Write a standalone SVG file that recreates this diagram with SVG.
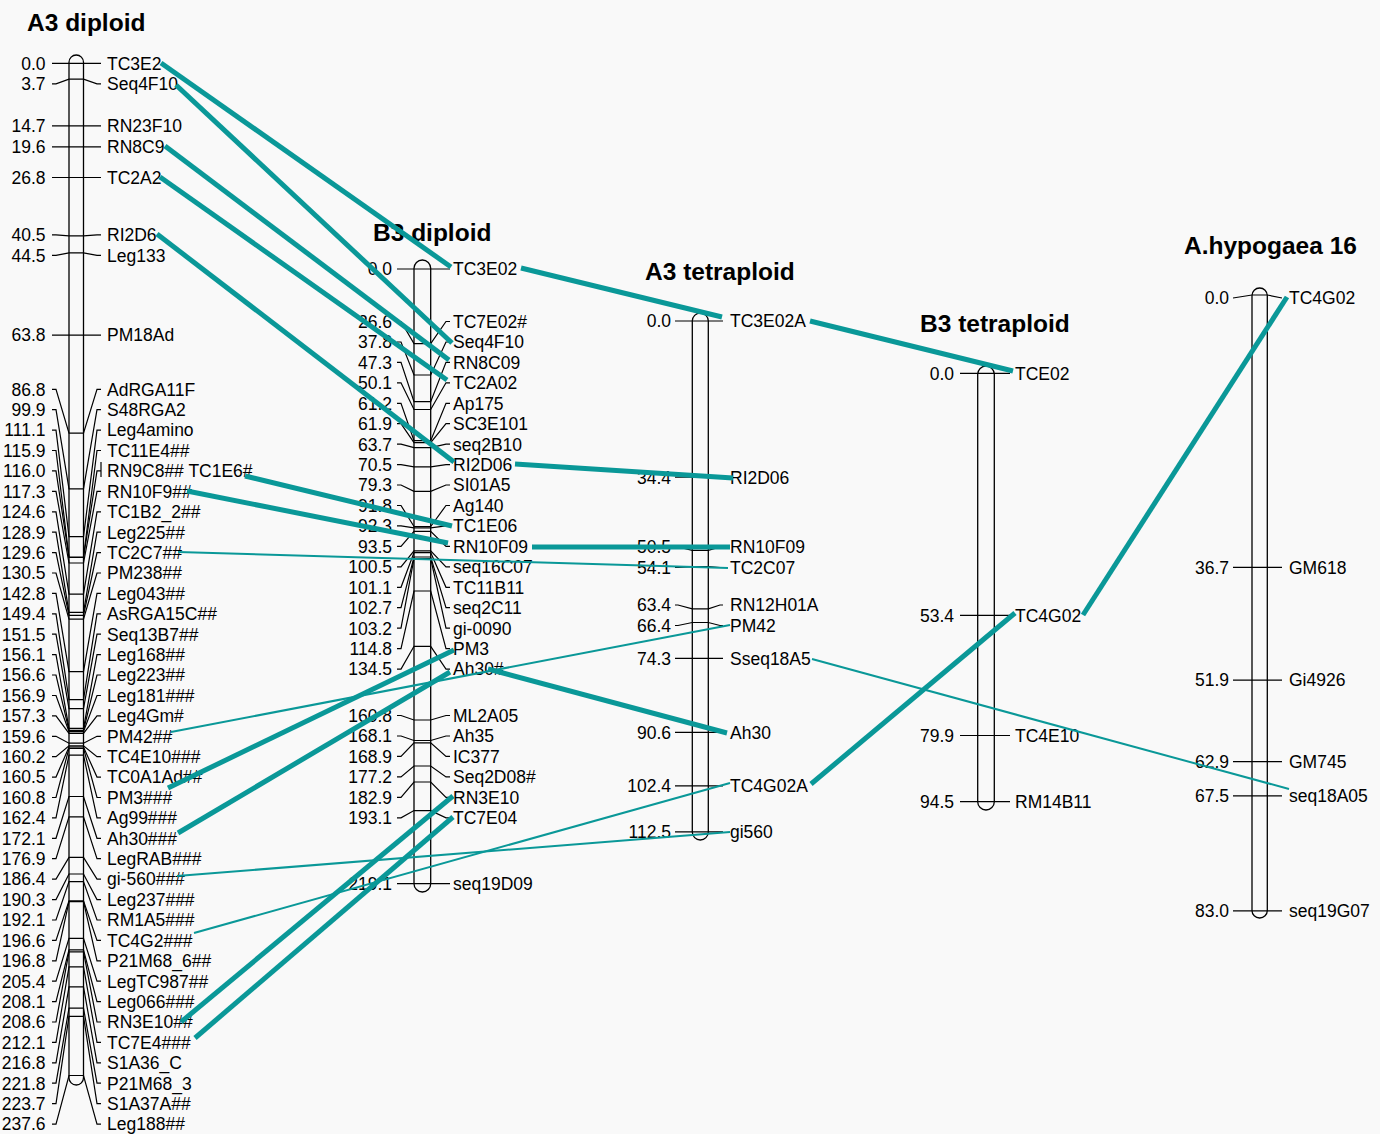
<svg xmlns="http://www.w3.org/2000/svg" width="1380" height="1134" viewBox="0 0 1380 1134">
<style>
.bg{fill:#f9f9f9}
.chr{fill:none;stroke:#000;stroke-width:1.3}
.tk{fill:none;stroke:#000;stroke-width:1.2}
text{font-family:"Liberation Sans",Arial,sans-serif;font-size:17.5px;fill:#000}
.n{text-anchor:end}
.t{font-size:24.5px;font-weight:bold}
.thick{stroke:#0a9898;stroke-width:5;fill:none}
.thin{stroke:#0a9898;stroke-width:2;fill:none}
</style>
<rect class="bg" x="0" y="0" width="1380" height="1134"/>

<g id="a3-diploid">
<text class="t" x="27" y="31">A3 diploid</text>
<rect class="chr" x="69" y="55" width="14.5" height="1030" rx="7.25"/>
<polyline class="tk" points="52,63.3 69,63.3 83.5,63.3 101,63.3"/>
<polyline class="tk" points="52,83.8 56,83.8 69,79.1 83.5,79.1 97,83.8 101,83.8"/>
<polyline class="tk" points="52,125.9 101,125.9"/>
<polyline class="tk" points="52,146.8 101,146.8"/>
<polyline class="tk" points="52,177.5 101,177.5"/>
<polyline class="tk" points="52,234.8 56,234.8 69,235.8 83.5,235.8 97,234.8 101,234.8"/>
<polyline class="tk" points="52,255.3 56,255.3 69,252.9 83.5,252.9 97,255.3 101,255.3"/>
<polyline class="tk" points="52,335.1 101,335.1"/>
<polyline class="tk" points="52,389.3 56,389.3 69,433.1 83.5,433.1 97,389.3 101,389.3"/>
<polyline class="tk" points="52,409.7 56,409.7 69,488.9 83.5,488.9 97,409.7 101,409.7"/>
<polyline class="tk" points="52,430.1 56,430.1 69,536.6 83.5,536.6 97,430.1 101,430.1"/>
<polyline class="tk" points="52,450.5 56,450.5 69,557 83.5,557 97,450.5 101,450.5"/>
<polyline class="tk" points="52,470.9 56,470.9 69,557.5 83.5,557.5 97,470.9 101,470.9"/>
<line class="tk" x1="101" y1="462" x2="101" y2="477"/>
<polyline class="tk" points="52,491.4 56,491.4 69,563 83.5,563 97,491.4 101,491.4"/>
<polyline class="tk" points="52,511.8 56,511.8 69,594.1 83.5,594.1 97,511.8 101,511.8"/>
<polyline class="tk" points="52,532.2 56,532.2 69,612.4 83.5,612.4 97,532.2 101,532.2"/>
<polyline class="tk" points="52,552.6 56,552.6 69,615.4 83.5,615.4 97,552.6 101,552.6"/>
<polyline class="tk" points="52,573 56,573 69,619.2 83.5,619.2 97,573 101,573"/>
<polyline class="tk" points="52,593.4 56,593.4 69,671.6 83.5,671.6 97,593.4 101,593.4"/>
<polyline class="tk" points="52,613.8 56,613.8 69,699.7 83.5,699.7 97,613.8 101,613.8"/>
<polyline class="tk" points="52,634.2 56,634.2 69,708.7 83.5,708.7 97,634.2 101,634.2"/>
<polyline class="tk" points="52,654.6 56,654.6 69,728.3 83.5,728.3 97,654.6 101,654.6"/>
<polyline class="tk" points="52,675 56,675 69,730.4 83.5,730.4 97,675 101,675"/>
<polyline class="tk" points="52,695.5 56,695.5 69,731.7 83.5,731.7 97,695.5 101,695.5"/>
<polyline class="tk" points="52,715.9 56,715.9 69,733.4 83.5,733.4 97,715.9 101,715.9"/>
<polyline class="tk" points="52,736.3 56,736.3 69,743.2 83.5,743.2 97,736.3 101,736.3"/>
<polyline class="tk" points="52,756.7 56,756.7 69,745.8 83.5,745.8 97,756.7 101,756.7"/>
<polyline class="tk" points="52,777.1 56,777.1 69,747 83.5,747 97,777.1 101,777.1"/>
<polyline class="tk" points="52,797.5 56,797.5 69,748.3 83.5,748.3 97,797.5 101,797.5"/>
<polyline class="tk" points="52,817.9 56,817.9 69,755.1 83.5,755.1 97,817.9 101,817.9"/>
<polyline class="tk" points="52,838.3 56,838.3 69,796.5 83.5,796.5 97,838.3 101,838.3"/>
<polyline class="tk" points="52,858.7 56,858.7 69,816.9 83.5,816.9 97,858.7 101,858.7"/>
<polyline class="tk" points="52,879.1 56,879.1 69,857.4 83.5,857.4 97,879.1 101,879.1"/>
<polyline class="tk" points="52,899.6 56,899.6 69,874 83.5,874 97,899.6 101,899.6"/>
<polyline class="tk" points="52,920 56,920 69,881.6 83.5,881.6 97,920 101,920"/>
<polyline class="tk" points="52,940.4 56,940.4 69,900.8 83.5,900.8 97,940.4 101,940.4"/>
<polyline class="tk" points="52,960.8 56,960.8 69,901.7 83.5,901.7 97,960.8 101,960.8"/>
<polyline class="tk" points="52,981.2 56,981.2 69,938.3 83.5,938.3 97,981.2 101,981.2"/>
<polyline class="tk" points="52,1001.6 56,1001.6 69,949.8 83.5,949.8 97,1001.6 101,1001.6"/>
<polyline class="tk" points="52,1022 56,1022 69,951.9 83.5,951.9 97,1022 101,1022"/>
<polyline class="tk" points="52,1042.4 56,1042.4 69,966.8 83.5,966.8 97,1042.4 101,1042.4"/>
<polyline class="tk" points="52,1062.8 56,1062.8 69,986.9 83.5,986.9 97,1062.8 101,1062.8"/>
<polyline class="tk" points="52,1083.2 56,1083.2 69,1008.2 83.5,1008.2 97,1083.2 101,1083.2"/>
<polyline class="tk" points="52,1103.7 56,1103.7 69,1016.3 83.5,1016.3 97,1103.7 101,1103.7"/>
<polyline class="tk" points="52,1124.1 56,1124.1 69,1075.5 83.5,1075.5 97,1124.1 101,1124.1"/>
<text class="n" x="45.5" y="69.6">0.0</text><text x="107" y="69.6">TC3E2</text>
<text class="n" x="45.5" y="90.1">3.7</text><text x="107" y="90.1">Seq4F10</text>
<text class="n" x="45.5" y="132.2">14.7</text><text x="107" y="132.2">RN23F10</text>
<text class="n" x="45.5" y="153.1">19.6</text><text x="107" y="153.1">RN8C9</text>
<text class="n" x="45.5" y="183.8">26.8</text><text x="107" y="183.8">TC2A2</text>
<text class="n" x="45.5" y="241.1">40.5</text><text x="107" y="241.1">RI2D6</text>
<text class="n" x="45.5" y="261.6">44.5</text><text x="107" y="261.6">Leg133</text>
<text class="n" x="45.5" y="341.4">63.8</text><text x="107" y="341.4">PM18Ad</text>
<text class="n" x="45.5" y="395.6">86.8</text><text x="107" y="395.6">AdRGA11F</text>
<text class="n" x="45.5" y="416">99.9</text><text x="107" y="416">S48RGA2</text>
<text class="n" x="45.5" y="436.4">111.1</text><text x="107" y="436.4">Leg4amino</text>
<text class="n" x="45.5" y="456.8">115.9</text><text x="107" y="456.8">TC11E4##</text>
<text class="n" x="45.5" y="477.2">116.0</text><text x="107" y="477.2">RN9C8## TC1E6#</text>
<text class="n" x="45.5" y="497.7">117.3</text><text x="107" y="497.7">RN10F9##</text>
<text class="n" x="45.5" y="518.1">124.6</text><text x="107" y="518.1">TC1B2_2##</text>
<text class="n" x="45.5" y="538.5">128.9</text><text x="107" y="538.5">Leg225##</text>
<text class="n" x="45.5" y="558.9">129.6</text><text x="107" y="558.9">TC2C7##</text>
<text class="n" x="45.5" y="579.3">130.5</text><text x="107" y="579.3">PM238##</text>
<text class="n" x="45.5" y="599.7">142.8</text><text x="107" y="599.7">Leg043##</text>
<text class="n" x="45.5" y="620.1">149.4</text><text x="107" y="620.1">AsRGA15C##</text>
<text class="n" x="45.5" y="640.5">151.5</text><text x="107" y="640.5">Seq13B7##</text>
<text class="n" x="45.5" y="660.9">156.1</text><text x="107" y="660.9">Leg168##</text>
<text class="n" x="45.5" y="681.3">156.6</text><text x="107" y="681.3">Leg223##</text>
<text class="n" x="45.5" y="701.8">156.9</text><text x="107" y="701.8">Leg181###</text>
<text class="n" x="45.5" y="722.2">157.3</text><text x="107" y="722.2">Leg4Gm#</text>
<text class="n" x="45.5" y="742.6">159.6</text><text x="107" y="742.6">PM42##</text>
<text class="n" x="45.5" y="763">160.2</text><text x="107" y="763">TC4E10###</text>
<text class="n" x="45.5" y="783.4">160.5</text><text x="107" y="783.4">TC0A1Ad##</text>
<text class="n" x="45.5" y="803.8">160.8</text><text x="107" y="803.8">PM3###</text>
<text class="n" x="45.5" y="824.2">162.4</text><text x="107" y="824.2">Ag99###</text>
<text class="n" x="45.5" y="844.6">172.1</text><text x="107" y="844.6">Ah30###</text>
<text class="n" x="45.5" y="865">176.9</text><text x="107" y="865">LegRAB###</text>
<text class="n" x="45.5" y="885.4">186.4</text><text x="107" y="885.4">gi-560###</text>
<text class="n" x="45.5" y="905.9">190.3</text><text x="107" y="905.9">Leg237###</text>
<text class="n" x="45.5" y="926.3">192.1</text><text x="107" y="926.3">RM1A5###</text>
<text class="n" x="45.5" y="946.7">196.6</text><text x="107" y="946.7">TC4G2###</text>
<text class="n" x="45.5" y="967.1">196.8</text><text x="107" y="967.1">P21M68_6##</text>
<text class="n" x="45.5" y="987.5">205.4</text><text x="107" y="987.5">LegTC987##</text>
<text class="n" x="45.5" y="1007.9">208.1</text><text x="107" y="1007.9">Leg066###</text>
<text class="n" x="45.5" y="1028.3">208.6</text><text x="107" y="1028.3">RN3E10##</text>
<text class="n" x="45.5" y="1048.7">212.1</text><text x="107" y="1048.7">TC7E4###</text>
<text class="n" x="45.5" y="1069.1">216.8</text><text x="107" y="1069.1">S1A36_C</text>
<text class="n" x="45.5" y="1089.5">221.8</text><text x="107" y="1089.5">P21M68_3</text>
<text class="n" x="45.5" y="1110">223.7</text><text x="107" y="1110">S1A37A##</text>
<text class="n" x="45.5" y="1130.4">237.6</text><text x="107" y="1130.4">Leg188##</text>
</g>

<g id="b3-diploid">
<text class="t" x="373" y="241">B3 diploid</text>
<rect class="chr" x="414" y="260" width="16.7" height="632" rx="8.3"/>
<polyline class="tk" points="397,269 450,269"/>
<polyline class="tk" points="397,321.5 401,321.5 414,343.6 430.7,343.6 446,321.5 450,321.5"/>
<polyline class="tk" points="397,342 401,342 414,375 430.7,375 446,342 450,342"/>
<polyline class="tk" points="397,362.4 401,362.4 414,401.7 430.7,401.7 446,362.4 450,362.4"/>
<polyline class="tk" points="397,382.8 401,382.8 414,409.5 430.7,409.5 446,382.8 450,382.8"/>
<polyline class="tk" points="397,403.3 401,403.3 414,440.7 430.7,440.7 446,403.3 450,403.3"/>
<polyline class="tk" points="397,423.7 401,423.7 414,442.6 430.7,442.6 446,423.7 450,423.7"/>
<polyline class="tk" points="397,444.2 401,444.2 414,447.7 430.7,447.7 446,444.2 450,444.2"/>
<polyline class="tk" points="397,464.6 401,464.6 414,466.8 430.7,466.8 446,464.6 450,464.6"/>
<polyline class="tk" points="397,485 401,485 414,491.4 430.7,491.4 446,485 450,485"/>
<polyline class="tk" points="397,505.5 401,505.5 414,526.5 430.7,526.5 446,505.5 450,505.5"/>
<polyline class="tk" points="397,525.9 401,525.9 414,527.9 430.7,527.9 446,525.9 450,525.9"/>
<polyline class="tk" points="397,546.4 401,546.4 414,531.3 430.7,531.3 446,546.4 450,546.4"/>
<polyline class="tk" points="397,566.8 401,566.8 414,550.9 430.7,550.9 446,566.8 450,566.8"/>
<polyline class="tk" points="397,587.3 401,587.3 414,552.6 430.7,552.6 446,587.3 450,587.3"/>
<polyline class="tk" points="397,607.7 401,607.7 414,557 430.7,557 446,607.7 450,607.7"/>
<polyline class="tk" points="397,628.2 401,628.2 414,558.5 430.7,558.5 446,628.2 450,628.2"/>
<polyline class="tk" points="397,648.6 401,648.6 414,591 430.7,591 446,648.6 450,648.6"/>
<polyline class="tk" points="397,669.1 401,669.1 414,646.3 430.7,646.3 446,669.1 450,669.1"/>
<polyline class="tk" points="397,715.5 401,715.5 414,720 430.7,720 446,715.5 450,715.5"/>
<polyline class="tk" points="397,736 401,736 414,740.5 430.7,740.5 446,736 450,736"/>
<polyline class="tk" points="397,756.4 401,756.4 414,742.8 430.7,742.8 446,756.4 450,756.4"/>
<polyline class="tk" points="397,776.9 401,776.9 414,766 430.7,766 446,776.9 450,776.9"/>
<polyline class="tk" points="397,797.3 401,797.3 414,782 430.7,782 446,797.3 450,797.3"/>
<polyline class="tk" points="397,817.8 401,817.8 414,810.6 430.7,810.6 446,817.8 450,817.8"/>
<polyline class="tk" points="397,883.6 450,883.6"/>
<text class="n" x="392" y="275.3">0.0</text><text x="453" y="275.3">TC3E02</text>
<text class="n" x="392" y="327.8">26.6</text><text x="453" y="327.8">TC7E02#</text>
<text class="n" x="392" y="348.3">37.8</text><text x="453" y="348.3">Seq4F10</text>
<text class="n" x="392" y="368.7">47.3</text><text x="453" y="368.7">RN8C09</text>
<text class="n" x="392" y="389.1">50.1</text><text x="453" y="389.1">TC2A02</text>
<text class="n" x="392" y="409.6">61.2</text><text x="453" y="409.6">Ap175</text>
<text class="n" x="392" y="430">61.9</text><text x="453" y="430">SC3E101</text>
<text class="n" x="392" y="450.5">63.7</text><text x="453" y="450.5">seq2B10</text>
<text class="n" x="392" y="470.9">70.5</text><text x="453" y="470.9">RI2D06</text>
<text class="n" x="392" y="491.3">79.3</text><text x="453" y="491.3">SI01A5</text>
<text class="n" x="392" y="511.8">91.8</text><text x="453" y="511.8">Ag140</text>
<text class="n" x="392" y="532.2">92.3</text><text x="453" y="532.2">TC1E06</text>
<text class="n" x="392" y="552.7">93.5</text><text x="453" y="552.7">RN10F09</text>
<text class="n" x="392" y="573.1">100.5</text><text x="453" y="573.1">seq16C07</text>
<text class="n" x="392" y="593.6">101.1</text><text x="453" y="593.6">TC11B11</text>
<text class="n" x="392" y="614">102.7</text><text x="453" y="614">seq2C11</text>
<text class="n" x="392" y="634.5">103.2</text><text x="453" y="634.5">gi-0090</text>
<text class="n" x="392" y="654.9">114.8</text><text x="453" y="654.9">PM3</text>
<text class="n" x="392" y="675.4">134.5</text><text x="453" y="675.4">Ah30#</text>
<text class="n" x="392" y="721.8">160.8</text><text x="453" y="721.8">ML2A05</text>
<text class="n" x="392" y="742.3">168.1</text><text x="453" y="742.3">Ah35</text>
<text class="n" x="392" y="762.7">168.9</text><text x="453" y="762.7">IC377</text>
<text class="n" x="392" y="783.2">177.2</text><text x="453" y="783.2">Seq2D08#</text>
<text class="n" x="392" y="803.6">182.9</text><text x="453" y="803.6">RN3E10</text>
<text class="n" x="392" y="824.1">193.1</text><text x="453" y="824.1">TC7E04</text>
<text class="n" x="392" y="889.9">219.1</text><text x="453" y="889.9">seq19D09</text>
</g>

<g id="a3-tetraploid">
<text class="t" x="645" y="280">A3 tetraploid</text>
<rect class="chr" x="692.3" y="313" width="16" height="527" rx="8"/>
<polyline class="tk" points="675,321 723,321"/>
<polyline class="tk" points="675,477.2 723,477.2"/>
<polyline class="tk" points="675,547 678,547 692.3,550.3 708.3,550.3 720,547 723,547"/>
<polyline class="tk" points="675,567.5 678,567.5 692.3,566.6 708.3,566.6 720,567.5 723,567.5"/>
<polyline class="tk" points="675,605 678,605 692.3,608.8 708.3,608.8 720,605 723,605"/>
<polyline class="tk" points="675,625.5 678,625.5 692.3,622.5 708.3,622.5 720,625.5 723,625.5"/>
<polyline class="tk" points="675,658.3 723,658.3"/>
<polyline class="tk" points="675,732.3 723,732.3"/>
<polyline class="tk" points="675,785.9 723,785.9"/>
<polyline class="tk" points="675,831.8 723,831.8"/>
<text class="n" x="671" y="327.3">0.0</text><text x="730" y="327.3">TC3E02A</text>
<text class="n" x="671" y="483.5">34.4</text><text x="730" y="483.5">RI2D06</text>
<text class="n" x="671" y="553.3">50.5</text><text x="730" y="553.3">RN10F09</text>
<text class="n" x="671" y="573.8">54.1</text><text x="730" y="573.8">TC2C07</text>
<text class="n" x="671" y="611.3">63.4</text><text x="730" y="611.3">RN12H01A</text>
<text class="n" x="671" y="631.8">66.4</text><text x="730" y="631.8">PM42</text>
<text class="n" x="671" y="664.6">74.3</text><text x="730" y="664.6">Sseq18A5</text>
<text class="n" x="671" y="738.6">90.6</text><text x="730" y="738.6">Ah30</text>
<text class="n" x="671" y="792.2">102.4</text><text x="730" y="792.2">TC4G02A</text>
<text class="n" x="671" y="838.1">112.5</text><text x="730" y="838.1">gi560</text>
</g>

<g id="b3-tetraploid">
<text class="t" x="920" y="332">B3 tetraploid</text>
<rect class="chr" x="977.7" y="366" width="16.6" height="444" rx="8.3"/>
<polyline class="tk" points="960,373.3 1010,373.3"/>
<polyline class="tk" points="960,615.4 1010,615.4"/>
<polyline class="tk" points="960,735.5 1010,735.5"/>
<polyline class="tk" points="960,801.7 1010,801.7"/>
<text class="n" x="954" y="379.6">0.0</text><text x="1015" y="379.6">TCE02</text>
<text class="n" x="954" y="621.7">53.4</text><text x="1015" y="621.7">TC4G02</text>
<text class="n" x="954" y="741.8">79.9</text><text x="1015" y="741.8">TC4E10</text>
<text class="n" x="954" y="808">94.5</text><text x="1015" y="808">RM14B11</text>
</g>

<g id="a-hypogaea-16">
<text class="t" x="1184" y="254">A.hypogaea 16</text>
<rect class="chr" x="1252" y="288" width="15.3" height="630" rx="7.6"/>
<polyline class="tk" points="1233,298 1252,295 1267.3,295 1282,298"/>
<polyline class="tk" points="1233,567.3 1282,567.3"/>
<polyline class="tk" points="1233,680.1 1282,680.1"/>
<polyline class="tk" points="1233,761.7 1282,761.7"/>
<polyline class="tk" points="1233,795.9 1282,795.9"/>
<polyline class="tk" points="1233,910.9 1282,910.9"/>
<text class="n" x="1229" y="304.3">0.0</text><text x="1289" y="304.3">TC4G02</text>
<text class="n" x="1229" y="573.6">36.7</text><text x="1289" y="573.6">GM618</text>
<text class="n" x="1229" y="686.4">51.9</text><text x="1289" y="686.4">Gi4926</text>
<text class="n" x="1229" y="768">62.9</text><text x="1289" y="768">GM745</text>
<text class="n" x="1229" y="802.2">67.5</text><text x="1289" y="802.2">seq18A05</text>
<text class="n" x="1229" y="917.2">83.0</text><text x="1289" y="917.2">seq19G07</text>
</g>

<g id="connectors">
<line class="thick" x1="161" y1="63" x2="451" y2="267"/>
<line class="thick" x1="176" y1="85" x2="452" y2="343"/>
<line class="thick" x1="165" y1="146" x2="449" y2="360"/>
<line class="thick" x1="160" y1="177" x2="447" y2="380"/>
<line class="thick" x1="157" y1="234" x2="454" y2="462"/>
<line class="thick" x1="245" y1="476" x2="452" y2="526"/>
<line class="thick" x1="187" y1="491" x2="448" y2="543"/>
<line class="thick" x1="521" y1="268" x2="722" y2="317"/>
<line class="thick" x1="810" y1="321" x2="1013" y2="371"/>
<line class="thick" x1="515" y1="464" x2="733" y2="478"/>
<line class="thick" x1="532" y1="547" x2="730" y2="547"/>
<line class="thick" x1="488" y1="669" x2="727" y2="733"/>
<line class="thick" x1="168" y1="788" x2="454" y2="650"/>
<line class="thick" x1="178" y1="833" x2="450" y2="672"/>
<line class="thick" x1="181" y1="1022" x2="453" y2="796"/>
<line class="thick" x1="195" y1="1038" x2="453" y2="817"/>
<line class="thick" x1="811" y1="784" x2="1015" y2="613"/>
<line class="thick" x1="1083" y1="615" x2="1287" y2="297"/>
<line class="thin" x1="178" y1="552" x2="728" y2="568"/>
<line class="thin" x1="171" y1="732" x2="730" y2="625"/>
<line class="thin" x1="177" y1="876" x2="730" y2="832"/>
<line class="thin" x1="194" y1="933" x2="730" y2="783"/>
<line class="thin" x1="812" y1="659" x2="1289" y2="789"/>
</g>
</svg>
